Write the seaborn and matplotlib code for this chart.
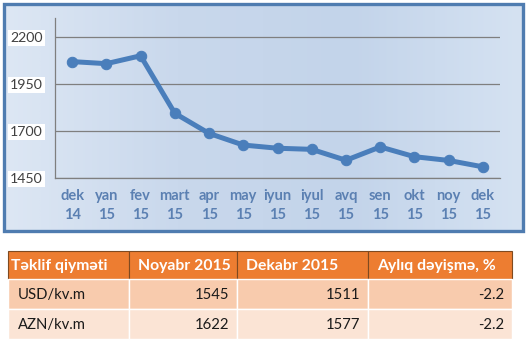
import numpy as np
import pandas as pd
import matplotlib
matplotlib.use('Agg')
import matplotlib.pyplot as plt
import seaborn as sns
from matplotlib.patches import Rectangle
from matplotlib.colors import LinearSegmentedColormap

# ---- data ----
months = ['dek\n14', 'yan\n15', 'fev\n15', 'mart\n15', 'apr\n15', 'may\n15', 'iyun\n15',
          'iyul\n15', 'avq\n15', 'sen\n15', 'okt\n15', 'noy\n15', 'dek\n15']
prices = [2071, 2060, 2102, 1796, 1689, 1627, 1610, 1604, 1546, 1617, 1565, 1545, 1511]
yticks = [1450, 1700, 1950, 2200]

table_header = ['Təklif qiyməti', 'Noyabr 2015', 'Dekabr 2015', 'Aylıq dəyişmə, %']
row_labels = ['USD/kv.m', 'AZN/kv.m']
nov_values = [1545, 1622]
dec_values = [1511, 1577]
change_values = [-2.2, -2.2]

W, H = 527, 343
sns.set_theme(style='white')
plt.rcParams['font.family'] = ['Lato', 'DejaVu Sans']

fig = plt.figure(figsize=(W / 100, H / 100), dpi=100)
fig.patch.set_facecolor('white')

# background axes in pixel coordinates
bg = fig.add_axes([0, 0, 1, 1])
bg.set_xlim(0, W)
bg.set_ylim(H, 0)
bg.axis('off')

# gradient for chart box
cmap = LinearSegmentedColormap.from_list('g', ['#dde7f4', '#c9d8ec', '#c3d4ea', '#d5e2f2'])
gx = np.linspace(0, 1, 300)
gy = np.linspace(0, 1, 120)
GX, GY = np.meshgrid(gx, gy)
grad = GX * 0.9
bg.imshow(grad, extent=(4, 523, 231, 4), cmap=cmap, aspect='auto', zorder=0)
bg.add_patch(Rectangle((4, 4), 519, 227, fill=False, lw=2.4, ec='#4f7cb0', zorder=2))

# table
col_x = [8, 129, 237, 368, 512]
row_y = [251, 279, 309, 339]
row_colors = ['#ed7d31', '#f8cbad', '#fbe4d5']
for r in range(3):
    for c in range(4):
        bg.add_patch(Rectangle((col_x[c], row_y[r]), col_x[c + 1] - col_x[c],
                               row_y[r + 1] - row_y[r], fc=row_colors[r],
                               ec='white' if r > 0 else '#7f4a20', lw=0.8 if r == 0 else 1.0,
                               zorder=1))
head_pad = [3, 9, 9, 9]
for c, txt in enumerate(table_header):
    bg.text(col_x[c] + head_pad[c], (row_y[0] + row_y[1]) / 2 + 1, txt, color='white',
            fontweight='bold', fontsize=11.3, va='center', ha='left', zorder=3)
for r in range(2):
    yc = (row_y[r + 1] + row_y[r + 2]) / 2 + 1
    bg.text(col_x[0] + 10, yc, row_labels[r], color='#1a1a1a', fontsize=10.7,
            va='center', ha='left', zorder=3)
    vals = [str(nov_values[r]), str(dec_values[r]), f'{change_values[r]:.1f}']
    for c, v in enumerate(vals):
        bg.text(col_x[c + 2] - 8, yc, v, color='#1a1a1a', fontsize=10.7,
                va='center', ha='right', zorder=3)

# line chart axes
left, right, top, bottom = 55, 500, 18, 178.3
ax = fig.add_axes([left / W, 1 - bottom / H, (right - left) / W, (bottom - top) / H])
ax.set_facecolor('none')
df = pd.DataFrame({'idx': np.arange(len(months)), 'price': prices})
sns.lineplot(data=df, x='idx', y='price', ax=ax, color='#4a7ebb', lw=3.6,
             marker='o', markersize=7.5, markeredgecolor='#4a7ebb', zorder=3)
ax.set_xlim(-0.5, len(months) - 0.5)
ax.set_ylim(1450, 2303)
ax.set_yticks(yticks)
ax.set_yticklabels([str(v) for v in yticks])
ax.set_xticks(np.arange(len(months)))
ax.set_xticklabels(months, linespacing=1.45)
ax.set_xticks(np.arange(-0.5, len(months)), minor=True)
ax.set_xlabel('')
ax.set_ylabel('')
ax.grid(axis='y', color='#7f7f7f', lw=0.9)
ax.grid(axis='x', visible=False)
for s in ['top', 'right']:
    ax.spines[s].set_visible(False)
for s in ['left', 'bottom']:
    ax.spines[s].set_color('#7f7f7f')
    ax.spines[s].set_linewidth(0.9)
ax.tick_params(axis='x', which='major', length=0, pad=8, labelsize=10.5,
               labelcolor='#5b80b2')
ax.tick_params(axis='x', which='minor', length=4, color='#7f7f7f', width=0.9, direction='out')
ax.tick_params(axis='y', length=5, color='#7f7f7f', width=0.9, direction='out', pad=4,
               labelsize=10.2, labelcolor='#404040')
for t in ax.get_xticklabels():
    t.set_fontweight('bold')
for t in ax.get_yticklabels():
    t.set_bbox(dict(fc='white', ec='none', pad=1.5))

fig.savefig('out.png', dpi=100)
